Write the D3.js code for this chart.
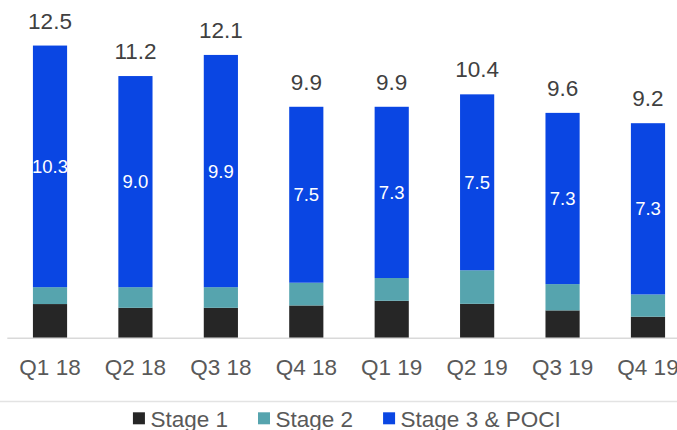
<!DOCTYPE html>
<html>
<head>
<meta charset="utf-8">
<script src="https://cdn.jsdelivr.net/npm/d3@7"></script>
<style>
  html, body { margin: 0; padding: 0; background: #fff; }
  svg { display: block; font-family: "Liberation Sans", Arial, sans-serif; }
</style>
</head>
<body>
<svg id="chart" width="677" height="430"></svg>
<script>
// Quarterly loan book by IFRS 9 stage
const quarters = ["Q1 18", "Q2 18", "Q3 18", "Q4 18", "Q1 19", "Q2 19", "Q3 19", "Q4 19"];
const stage1 = [1.46, 1.30, 1.30, 1.40, 1.60, 1.47, 1.19, 0.92];
const stage2 = [0.72, 0.88, 0.88, 0.97, 0.97, 1.43, 1.12, 0.95];
const stage3 = [10.3, 9.0, 9.9, 7.5, 7.3, 7.5, 7.3, 7.3];
const seriesNames = ["Stage 1", "Stage 2", "Stage 3 & POCI"];
const seriesColors = ["#262626", "#56a4ae", "#0a46e3"];

const svg = d3.select("#chart");
const W = 677, H = 430;

const rows = quarters.map((q, i) => ({
  q, s1: stage1[i], s2: stage2[i], s3: stage3[i]
}));
const keys = ["s1", "s2", "s3"];
const stacked = d3.stack().keys(keys)(rows);

const x = d3.scaleBand()
  .domain(quarters)
  .range([7.3, 690.7])
  .paddingInner(0.6)
  .paddingOuter(0.3);

const y = d3.scaleLinear()
  .domain([0, 14])
  .range([338.3, 9.9]);

// stacked bars
svg.append("g").selectAll("g")
  .data(stacked)
  .join("g")
  .attr("fill", (d, i) => seriesColors[i])
  .selectAll("rect")
  .data(d => d)
  .join("rect")
  .attr("x", d => x(d.data.q))
  .attr("width", x.bandwidth())
  .attr("y", d => y(d[1]))
  .attr("height", d => y(d[0]) - y(d[1]));

// category axis baseline
svg.append("line")
  .attr("x1", x.range()[0]).attr("x2", x.range()[1])
  .attr("y1", y(0)).attr("y2", y(0))
  .attr("stroke", "#d9d9d9").attr("stroke-width", 1.5);

// category labels
const xAxis = d3.axisBottom(x).tickSize(0).tickPadding(0);
const gx = svg.append("g").attr("transform", `translate(0,${y(0)})`).call(xAxis);
gx.select(".domain").remove();
gx.selectAll("text")
  .attr("y", 37)
  .attr("dy", 0)
  .attr("fill", "#595959")
  .style("font-size", "22.5px")
  .style("font-family", "'Liberation Sans', Arial, sans-serif");

// stage 3 values inside the bars
const s3Layer = stacked[2];
svg.append("g").selectAll("text")
  .data(s3Layer)
  .join("text")
  .attr("x", d => x(d.data.q) + x.bandwidth() / 2)
  .attr("y", d => (y(d[0]) + y(d[1])) / 2)
  .attr("dy", "0.35em")
  .attr("text-anchor", "middle")
  .attr("fill", "#ffffff")
  .style("font-size", "18.5px")
  .text(d => d.data.s3.toFixed(1));

// totals above the bars
svg.append("g").selectAll("text")
  .data(s3Layer)
  .join("text")
  .attr("x", d => x(d.data.q) + x.bandwidth() / 2)
  .attr("y", d => y(d[1]) - 17)
  .attr("text-anchor", "middle")
  .attr("fill", "#404040")
  .style("font-size", "22.5px")
  .text(d => d[1].toFixed(1));

// legend separator
svg.append("line")
  .attr("x1", 0).attr("x2", W)
  .attr("y1", 401.5).attr("y2", 401.5)
  .attr("stroke", "#e3e3e3").attr("stroke-width", 1.5);

// legend
const legend = svg.append("g");
const items = legend.selectAll("g")
  .data(seriesNames)
  .join("g");
items.append("rect")
  .attr("width", 12).attr("height", 12)
  .attr("y", 412.3)
  .attr("fill", (d, i) => seriesColors[i]);
items.append("text")
  .attr("x", 17.5)
  .attr("y", 426.5)
  .attr("fill", "#595959")
  .style("font-size", "22.5px")
  .text(d => d);

const gap = 30;
const widths = [];
items.each(function () {
  widths.push(17.5 + this.querySelector("text").getComputedTextLength());
});
const total = d3.sum(widths) + gap * (widths.length - 1);
let cx = 352.8 - total / 2 - 6;
items.each(function (d, i) {
  d3.select(this).attr("transform", `translate(${cx},0)`);
  cx += widths[i] + gap;
});
</script>
</body>
</html>
